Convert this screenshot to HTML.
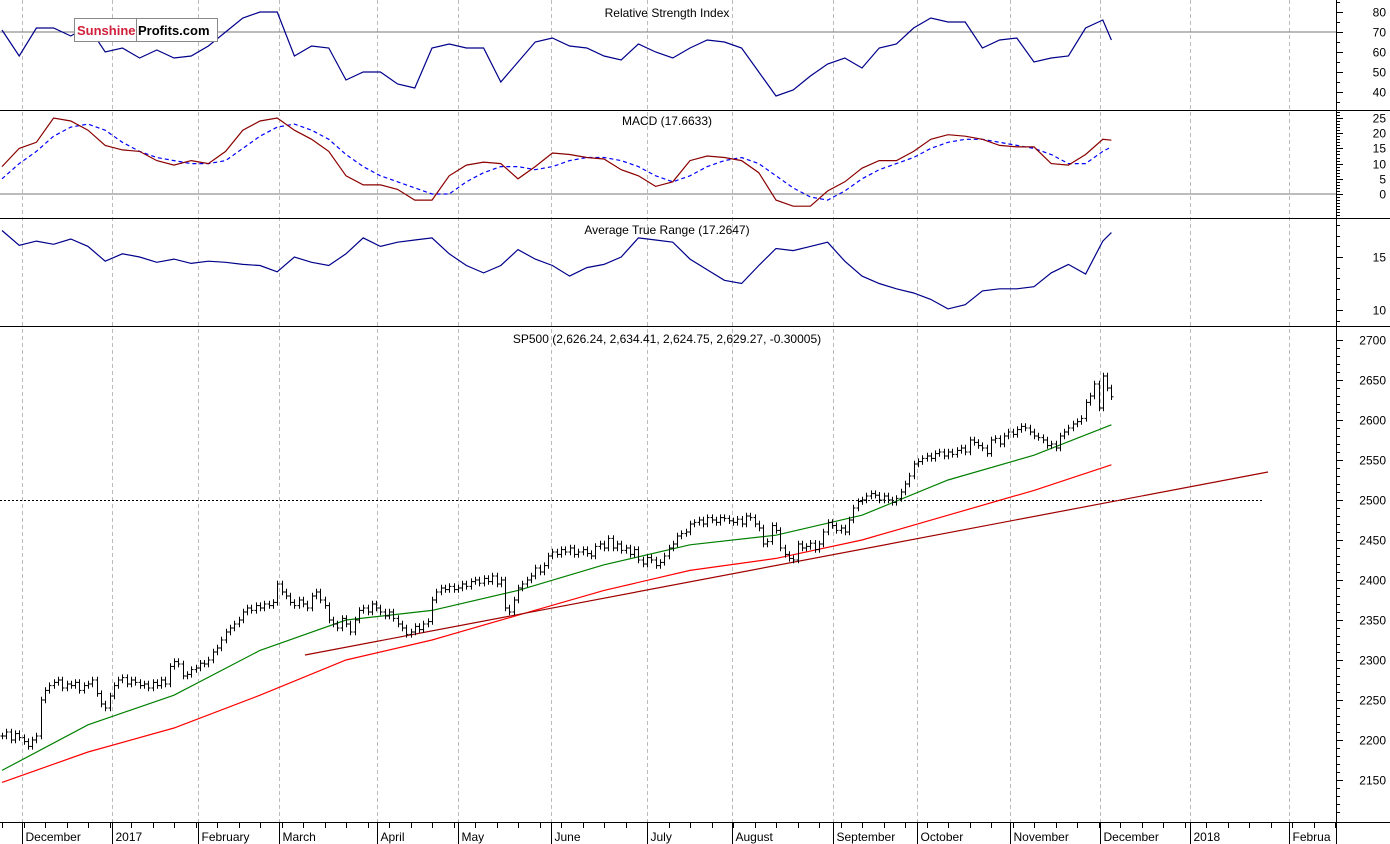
<!DOCTYPE html>
<html><head><meta charset="utf-8"><style>
html,body{margin:0;padding:0;background:#fff;}
svg{display:block;font-family:"Liberation Sans",sans-serif;}
</style></head><body>
<svg id="c" width="1390" height="844" viewBox="0 0 1390 844" xmlns="http://www.w3.org/2000/svg"></svg>
<script>
const closes=[2205,2210,2200,2208,2203,2198,2192,2200,2205,2250,2262,2268,2272,2275,2265,2270,2268,2272,2262,2268,
2270,2275,2258,2245,2240,2255,2268,2275,2278,2270,2275,2272,2268,2270,2265,2272,2268,2275,2270,2292,
2298,2295,2280,2282,2288,2290,2296,2295,2300,2310,2315,2325,2335,2340,2345,2350,2360,2365,2362,2368,
2365,2370,2368,2372,2395,2385,2380,2372,2368,2375,2370,2365,2380,2385,2375,2368,2350,2345,2340,2352,
2345,2335,2350,2362,2365,2360,2370,2365,2360,2355,2360,2352,2345,2340,2332,2335,2342,2338,2345,2348,
2375,2385,2390,2388,2392,2388,2390,2395,2392,2398,2400,2396,2402,2398,2405,2395,2400,2365,2360,2375,
2390,2395,2400,2405,2415,2410,2418,2430,2435,2432,2438,2435,2440,2432,2435,2438,2433,2430,2442,2445,
2440,2452,2440,2445,2437,2440,2432,2438,2425,2420,2428,2425,2418,2422,2430,2440,2445,2455,2458,2460,
2470,2472,2475,2470,2478,2475,2472,2478,2477,2474,2472,2476,2470,2480,2478,2470,2465,2445,2448,2468,
2462,2440,2432,2427,2425,2445,2440,2442,2446,2438,2445,2460,2472,2468,2462,2465,2460,2475,2490,2498,
2500,2505,2508,2506,2500,2505,2500,2497,2502,2510,2520,2530,2545,2548,2552,2555,2552,2558,2560,2555,
2560,2557,2562,2565,2560,2575,2572,2568,2565,2558,2575,2577,2570,2580,2585,2582,2588,2592,2590,2585,
2580,2578,2575,2568,2570,2565,2580,2585,2590,2595,2598,2602,2622,2630,2645,2615,2655,2640,2629];
// moving averages sampled every 20 bars (last = final bar)
const ma50=[2162,2219,2256,2312,2350,2362,2387,2419,2444,2456,2481,2525,2556,2594];
const ma200=[2147,2185,2215,2256,2300,2325,2356,2387,2412,2427,2450,2481,2512,2544];
const rsi=[71,58,72,72,68,73,60,62,57,61,57,58,63,70,77,80,80,58,63,62,46,50,50,44,42,62,64,62,62,45,55,65,67,63,62,58,56,64,60,57,62,66,65,62,50,38,41,48,54,57,52,62,64,72,77,75,75,62,66,67,55,57,58,72,76,66];
const macd=[9,15,17,25,24,21,16,14.5,14,11,9.5,11,10,14,21,24,25,21,18,14,6,3,3,1.5,-2,-2,6,9.5,10.5,10,5,9,13.5,13,12,11.5,8,6,2.5,4,11,12.5,12,11,7,-2,-4,-4,1,4,8.5,11,11,14,18,19.5,19,18,16,15.5,15.5,10,9.5,13,18,17.7];
const signal=[5,10,14,19,22,23,21,17,14,12,11,10,10,11,15,19,22,23,21,18,13,9,6,4,2,0,0,4,7,9,9,8,9,11,12,12,11,9,6,4,6,9,11,12,10,6,2,-1,-2,1,5,8,10,12,15,17,18,18,17,16,15,13,10,10,14,15.5];
const atr=[17.5,16.1,16.5,16.2,16.7,16,14.6,15.3,15,14.5,14.8,14.4,14.6,14.5,14.3,14.2,13.6,15,14.5,14.2,15.3,16.8,16,16.4,16.6,16.8,15.3,14.2,13.5,14.2,15.7,14.8,14.2,13.2,14,14.3,15,16.8,16.6,16.4,14.8,13.8,12.8,12.5,14.2,15.8,15.6,16,16.4,14.6,13.2,12.5,12,11.6,11,10.1,10.5,11.8,12,12,12.2,13.5,14.3,13.4,16.5,17.3];
const months=["December","2017","February","March","April","May","June","July","August","September","October","November","December","2018","Februa"];
const monthBar=[4.65,25.6,45.6,64.4,87.2,106,127.7,150,169.8,193.3,212.8,234.4,255.3,276.3,299.3];
const spTicks=[2150,2200,2250,2300,2350,2400,2450,2500,2550,2600,2650,2700];
const rsiTicks=[40,50,60,70,80];
const macdTicks=[0,5,10,15,20,25];
const atrTicks=[10,15];

const svg=document.getElementById('c');
const NS="http://www.w3.org/2000/svg";
function mk(t,a,name,parent){const e=document.createElementNS(NS,t);for(const k in a)e.setAttribute(k,a[k]);


(parent||svg).appendChild(e);return e;}
const bx=i=>2+i*4.3;
const ySP=v=>340+(2700-v)*0.8;
const yRSI=v=>32+(70-v)*2;
const yMACD=v=>194-v*3.04;
const yATR=v=>257-(v-15)*10.6;
const R=1336;

monthBar.forEach((b,k)=>{const x=Math.round(bx(b))+0.5;
 mk('line',{x1:x,y1:0,x2:x,y2:822,stroke:'#bbb','stroke-dasharray':'4,3'},'month-gridline');});
mk('line',{x1:0,y1:yRSI(70),x2:R,y2:yRSI(70),stroke:'#777'},'rsi-70-line');
mk('line',{x1:0,y1:yMACD(0),x2:R,y2:yMACD(0),stroke:'#777'},'macd-zero-line');
mk('line',{x1:0,y1:ySP(2500)+0.5,x2:1262,y2:ySP(2500)+0.5,stroke:'#000','stroke-dasharray':'2,2'},'level-2500-line');
[110,218,326,822].forEach(y=>mk('line',{x1:0,y1:y+0.5,x2:1390,y2:y+0.5,stroke:'#000'},'panel-border'));
mk('line',{x1:R+0.5,y1:0,x2:R+0.5,y2:844,stroke:'#000'},'right-axis-line');

function series(arr,ys,stroke,name,extra,step){
 const pts=arr.map((v,i)=>`${bx(Math.min(i*step,258)).toFixed(1)},${ys(v).toFixed(1)}`).join(' ');
 const a={points:pts,fill:'none',stroke:stroke,'stroke-width':1.2};Object.assign(a,extra||{});
 mk('polyline',a,name);}
series(rsi,yRSI,'#00008b','rsi-line',null,4);
series(signal,yMACD,'#0000ff','macd-signal-line',{'stroke-dasharray':'4,3'},4);
series(macd,yMACD,'#8b0000','macd-line',null,4);
series(atr,yATR,'#00008b','atr-line',null,4);
series(ma200,ySP,'#ff0000','ma200-line',null,20);
series(ma50,ySP,'#008000','ma50-line',null,20);
mk('line',{x1:305,y1:655,x2:1268,y2:472,stroke:'#a00000','stroke-width':1.2},'trend-line');

closes.forEach((c,i)=>{const o=i?closes[i-1]:c;const h=Math.max(o,c)+4,l=Math.min(o,c)-4;const x=Math.round(bx(i))+0.5;
 const g=mk('g',{stroke:'#000','stroke-width':1},'price-bar');
 mk('line',{x1:x,y1:ySP(h),x2:x,y2:ySP(l)},'bar-range',g);
 mk('line',{x1:x-2,y1:ySP(o),x2:x,y2:ySP(o)},'bar-open',g);
 mk('line',{x1:x,y1:ySP(c),x2:x+2,y2:ySP(c)},'bar-close',g);});

function axis(ticks,ys,name,minor,lo,hi){
 ticks.forEach(t=>{const y=Math.round(ys(t))+0.5;mk('line',{x1:R,y1:y,x2:R+7,y2:y,stroke:'#000'},name+'-tick');
  const tx=mk('text',{x:1386,y:y+4,'text-anchor':'end','font-size':12,fill:'#000'},name+'-label');tx.textContent=t;});
 for(let v=lo;v<=hi;v+=minor){const y=Math.round(ys(v))+0.5;mk('line',{x1:R,y1:y,x2:R+4,y2:y,stroke:'#000'},name+'-minor-tick');}
}
axis(rsiTicks,yRSI,'rsi-axis',5,35,85);
axis(macdTicks,yMACD,'macd-axis',1,-7,27);
axis(atrTicks,yATR,'atr-axis',1,9,18);
axis(spTicks,ySP,'sp-axis',10,2110,2700);

for(let i=0;i<=312;i+=5){const x=Math.round(bx(i))+0.5;mk('line',{x1:x,y1:822,x2:x,y2:828,stroke:'#000'},'x-minor-tick');}
months.forEach((m,k)=>{const x=Math.round(bx(monthBar[k]))+0.5;
 mk('line',{x1:x,y1:822,x2:x,y2:844,stroke:'#000'},'x-month-tick');
 const t=mk('text',{x:x+3,y:841,'font-size':12,fill:'#000'},'x-month-label');t.textContent=m;});

function title(txt,y,name){const t=mk('text',{x:667,y:y,'text-anchor':'middle','font-size':12,fill:'#000'},name);t.textContent=txt;}
title('Relative Strength Index',17,'rsi-title');
title('MACD (17.6633)',125,'macd-title');
title('Average True Range (17.2647)',234,'atr-title');
title('SP500 (2,626.24, 2,634.41, 2,624.75, 2,629.27, -0.30005)',343,'sp500-title');

const lg=mk('g',{},'sunshine-profits-logo');
mk('rect',{x:74.5,y:18.5,width:143,height:23,fill:'#fff',stroke:'#888'},'logo-box',lg);
mk('line',{x1:136.5,y1:19,x2:136.5,y2:41,stroke:'#888'},'logo-divider',lg);
const t1=mk('text',{x:77,y:35,'font-size':13,'font-weight':'bold',fill:'#d0203a'},'logo-sunshine',lg);t1.textContent='Sunshine';
const t2=mk('text',{x:138,y:35,'font-size':13,'font-weight':'bold',fill:'#000'},'logo-profits',lg);t2.textContent='Profits.com';
</script>
</body></html>
